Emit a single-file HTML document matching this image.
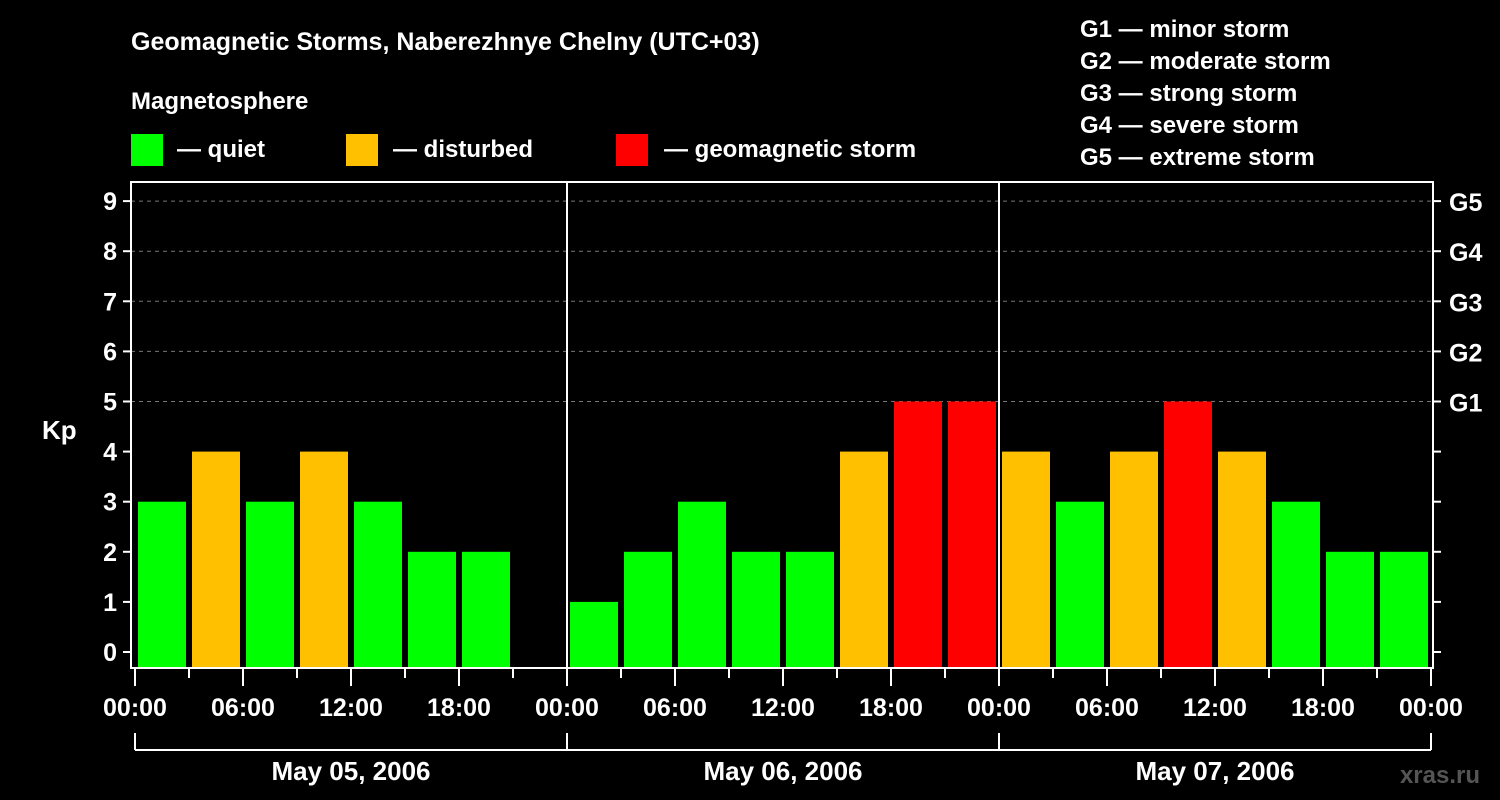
<!DOCTYPE html>
<html><head><meta charset="utf-8"><style>
body{margin:0;background:#000;}
svg{display:block;font-family:"Liberation Sans",sans-serif;font-weight:bold;}
</style></head><body>
<svg id="c" width="1500" height="800" viewBox="0 0 1500 800">
<rect width="1500" height="800" fill="#000"/>
<text x="131" y="50" fill="#fff" font-size="25">Geomagnetic Storms, Naberezhnye Chelny (UTC+03)</text>
<text x="131" y="109" fill="#fff" font-size="24">Magnetosphere</text>
<g><rect x="131" y="134" width="32" height="32" fill="#00ff00"/><text x="177" y="157" fill="#fff" font-size="24">— quiet</text></g>
<g><rect x="346" y="134" width="32" height="32" fill="#ffc000"/><text x="393" y="157" fill="#fff" font-size="24">— disturbed</text></g>
<g><rect x="616" y="134" width="32" height="32" fill="#ff0000"/><text x="664" y="157" fill="#fff" font-size="24">— geomagnetic storm</text></g>
<g fill="#fff" font-size="24">
<text x="1080" y="37">G1 — minor storm</text>
<text x="1080" y="69">G2 — moderate storm</text>
<text x="1080" y="101">G3 — strong storm</text>
<text x="1080" y="133">G4 — severe storm</text>
<text x="1080" y="165">G5 — extreme storm</text>
</g>
<text x="42" y="439" fill="#fff" font-size="26">Kp</text>
<text x="1480" y="783" fill="#555" font-size="24" text-anchor="end">xras.ru</text>
<g id="plot"></g>
</svg>
<script>
const days = ["May 05, 2006","May 06, 2006","May 07, 2006"];
const kp = [3,4,3,4,3,2,2,null, 1,2,3,2,2,4,5,5, 4,3,4,5,4,3,2,2];
const hourLabels = ["00:00","06:00","12:00","18:00"];
const gLabels = ["G1","G2","G3","G4","G5"];
const NS="http://www.w3.org/2000/svg";
const g=document.getElementById('plot');
const L=131,R=1433,T=182,B=668,X0=135,DAY=432;
const y=v=>652-v*50.1;
const x=h=>X0+h/24*DAY;
function el(t,a,p){const e=document.createElementNS(NS,t);for(const k in a)e.setAttribute(k,a[k]);(p||g).appendChild(e);return e;}
for(let v=5;v<=9;v++){const l=el('line',{x1:L,x2:R,y1:y(v),y2:y(v),stroke:'#777','stroke-dasharray':'4,4'});

}
kp.forEach((v,i)=>{if(v==null)return;
const c=v>=5?'#ff0000':v>=4?'#ffc000':'#00ff00';
const r=el('rect',{x:x(i*3)+3,width:48,y:y(v),height:B-y(v),fill:c});

});
for(let d=1;d<days.length;d++){el('line',{x1:x(d*24),x2:x(d*24),y1:T,y2:B,stroke:'#fff','stroke-width':2});}
const f=el('rect',{x:L,y:T,width:R-L,height:B-T,fill:'none',stroke:'#fff','stroke-width':2});


for(let v=0;v<=9;v++){
el('line',{x1:L-8,x2:L,y1:y(v),y2:y(v),stroke:'#fff','stroke-width':2});
el('line',{x1:R,x2:R+8,y1:y(v),y2:y(v),stroke:'#fff','stroke-width':2});
const t=el('text',{x:L-14,y:y(v)+9,fill:'#fff','font-size':25,'text-anchor':'end'});t.textContent=v;


if(v>=5){const gt=el('text',{x:1449,y:y(v)+10,fill:'#fff','font-size':25});gt.textContent=gLabels[v-5];

}}
for(let h=0;h<=days.length*24;h+=3){const major=h%6==0;
el('line',{x1:x(h),x2:x(h),y1:B,y2:B+(major?18:10),stroke:'#fff','stroke-width':2});
if(major){const t=el('text',{x:x(h),y:716,fill:'#fff','font-size':25,'text-anchor':'middle'});t.textContent=hourLabels[(h%24)/6];

}}
days.forEach((d,i)=>{const a=x(i*24),b=x((i+1)*24);
el('line',{x1:a,x2:b,y1:750,y2:750,stroke:'#fff','stroke-width':2});
el('line',{x1:a,x2:a,y1:733,y2:750,stroke:'#fff','stroke-width':2});
el('line',{x1:b,x2:b,y1:733,y2:750,stroke:'#fff','stroke-width':2});
const t=el('text',{x:(a+b)/2,y:780,fill:'#fff','font-size':26,'text-anchor':'middle'});t.textContent=d;

});
</script>
</body></html>
